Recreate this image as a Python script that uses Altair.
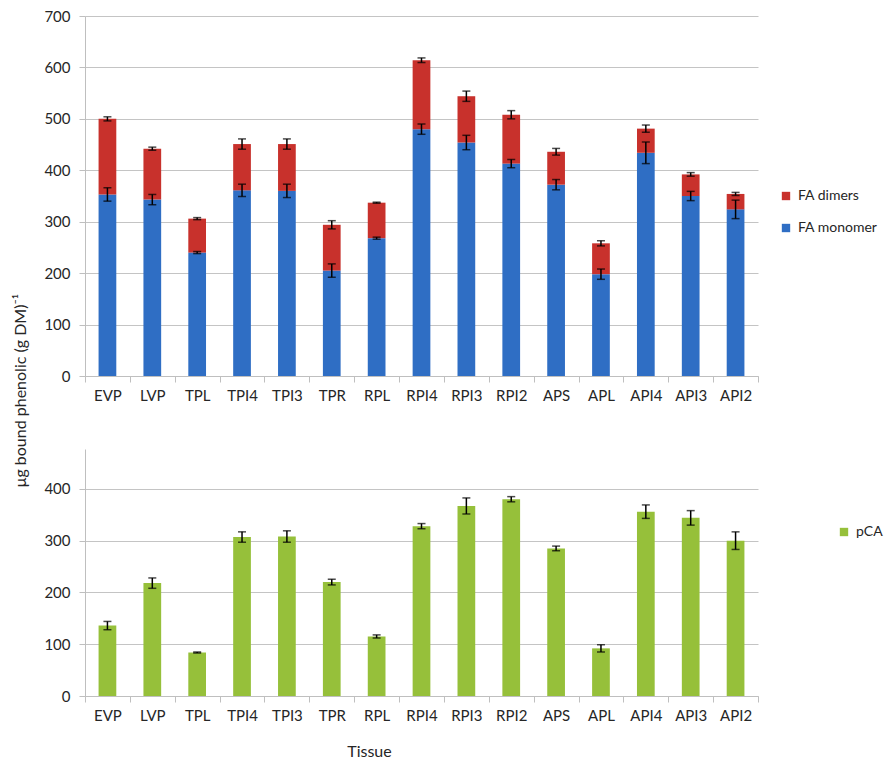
import altair as alt
import pandas as pd

tissues = ["EVP", "LVP", "TPL", "TPI4", "TPI3", "TPR", "RPL", "RPI4",
           "RPI3", "RPI2", "APS", "APL", "API4", "API3", "API2"]
fa_monomer = [353, 343, 240, 361, 360, 205, 268, 480, 454, 413, 372, 198, 434, 350, 324]
fa_total = [500, 442, 306, 451, 451, 294, 337, 614, 544, 508, 436, 258, 481, 392, 354]
fa_monomer_err = [13, 10, 2, 12, 13, 13, 2, 10, 14, 8, 10, 10, 21, 9, 18]
fa_dimer_err = [4, 3, 2, 10, 10, 8, 1, 4.5, 10, 8, 6.5, 5, 7, 3.5, 3]
pca = [136, 218, 84, 307, 308, 220, 115, 328, 367, 380, 285, 92, 356, 344, 300]
pca_err = [8, 10, 1, 10, 11, 5.5, 3, 5, 15.5, 5, 4.5, 7, 13, 14, 17]

series_top = ["FA dimers", "FA monomer"]
colors_top = ["#C8312C", "#2F6EC4"]
series_bot = ["pCA"]
colors_bot = ["#96C03A"]

FONT = "Lato"
TXT = "#262626"
GRID = "#C4C4C4"

# ---- data tables ----
stack_rows = []
err_rows = []
cap_rows = []
for t, m, tot, em, ed in zip(tissues, fa_monomer, fa_total, fa_monomer_err, fa_dimer_err):
    stack_rows.append({"tissue": t, "series": "FA monomer", "y0": 0, "y1": m})
    stack_rows.append({"tissue": t, "series": "FA dimers", "y0": m, "y1": tot})
    for c, e in ((m, em), (tot, ed)):
        err_rows.append({"tissue": t, "y0": c - e, "y1": c + e})
        cap_rows.append({"tissue": t, "y0": c - e})
        cap_rows.append({"tissue": t, "y0": c + e})
top_bars = pd.DataFrame(stack_rows)
top_err = pd.DataFrame(err_rows)
top_caps = pd.DataFrame(cap_rows)

bot_bars = pd.DataFrame({"tissue": tissues, "series": "pCA", "y0": [0] * len(tissues), "y1": pca})
bot_err = pd.DataFrame({"tissue": tissues,
                        "y0": [v - e for v, e in zip(pca, pca_err)],
                        "y1": [v + e for v, e in zip(pca, pca_err)]})
bot_caps = pd.DataFrame({"tissue": tissues * 2,
                         "y0": [v - e for v, e in zip(pca, pca_err)] + [v + e for v, e in zip(pca, pca_err)]})

W = 673


def x_enc(title_kwargs):
    return alt.X("tissue:N", sort=tissues,
                 scale=alt.Scale(paddingInner=0, paddingOuter=0),
                 axis=alt.Axis(labelAngle=0, tickBand="extent", tickSize=6, labelPadding=6,
                               grid=False, **title_kwargs))


def panel(bars, err, caps, domain_max, tick_values, series, colors, height,
          x_title, y_title, legend_x, legend_y):
    yscale = alt.Scale(domain=[0, domain_max], nice=False)
    y_axis_kw = dict(values=tick_values, grid=True, tickSize=6, labelPadding=9)
    if y_title:
        y_axis_kw.update(title=y_title, titleX=-65, titleY=374, titleBaseline="middle",
                         titleAlign="center", titleAngle=270, titleFontSize=16,
                         titleFontWeight="normal", titleFont=FONT, titleColor=TXT)
    else:
        y_axis_kw.update(title=None)
    if x_title:
        x_kw = dict(title=x_title, titleX=284, titleY=55, titleBaseline="middle",
                    titleFontSize=16, titleFontWeight="normal", titleFont=FONT, titleColor=TXT)
    else:
        x_kw = dict(title=None)

    b = alt.Chart(bars).mark_bar(width=alt.RelativeBandSize(0.395)).encode(
        x=x_enc(x_kw),
        y=alt.Y("y0:Q", scale=yscale, axis=alt.Axis(**y_axis_kw)),
        y2="y1:Q",
        color=alt.Color("series:N", title=None,
                        scale=alt.Scale(domain=series, range=colors),
                        legend=alt.Legend(orient="none", legendX=legend_x, legendY=legend_y,
                                          symbolType="square", symbolSize=70,
                                          labelFontSize=14, labelFont=FONT, labelColor=TXT,
                                          rowPadding=18, padding=0, labelOffset=5)),
    )
    r = alt.Chart(err).mark_rule(color="black", strokeWidth=1.5).encode(
        x=alt.X("tissue:N", sort=tissues), y=alt.Y("y0:Q"), y2="y1:Q")
    c = alt.Chart(caps).mark_tick(color="black", size=8, thickness=1.5).encode(
        x=alt.X("tissue:N", sort=tissues), y=alt.Y("y0:Q"))
    return alt.layer(b, r, c).properties(width=W, height=height)


top = panel(top_bars, top_err, top_caps, 700, [0, 100, 200, 300, 400, 500, 600, 700],
            series_top, colors_top, 360, None, "μg bound phenolic (g DM)⁻¹", 694, 173)
bottom = panel(bot_bars, bot_err, bot_caps, 477, [0, 100, 200, 300, 400],
               series_bot, colors_bot, 247, "Tissue", None, 752, 76)

chart = alt.vconcat(top, bottom, spacing=73, bounds="flush").properties(
    padding={"left": 3, "top": 0, "right": 0, "bottom": 0}
).resolve_scale(color="independent").resolve_legend(color="independent").configure_view(
    stroke="transparent"
).configure_axis(
    labelFont=FONT, labelFontSize=15, labelColor=TXT,
    domainColor="#BFBFBF", tickColor="#BFBFBF", gridColor=GRID, gridWidth=1
)

chart.save("out.html", embed_options={"renderer": "svg", "actions": False})
